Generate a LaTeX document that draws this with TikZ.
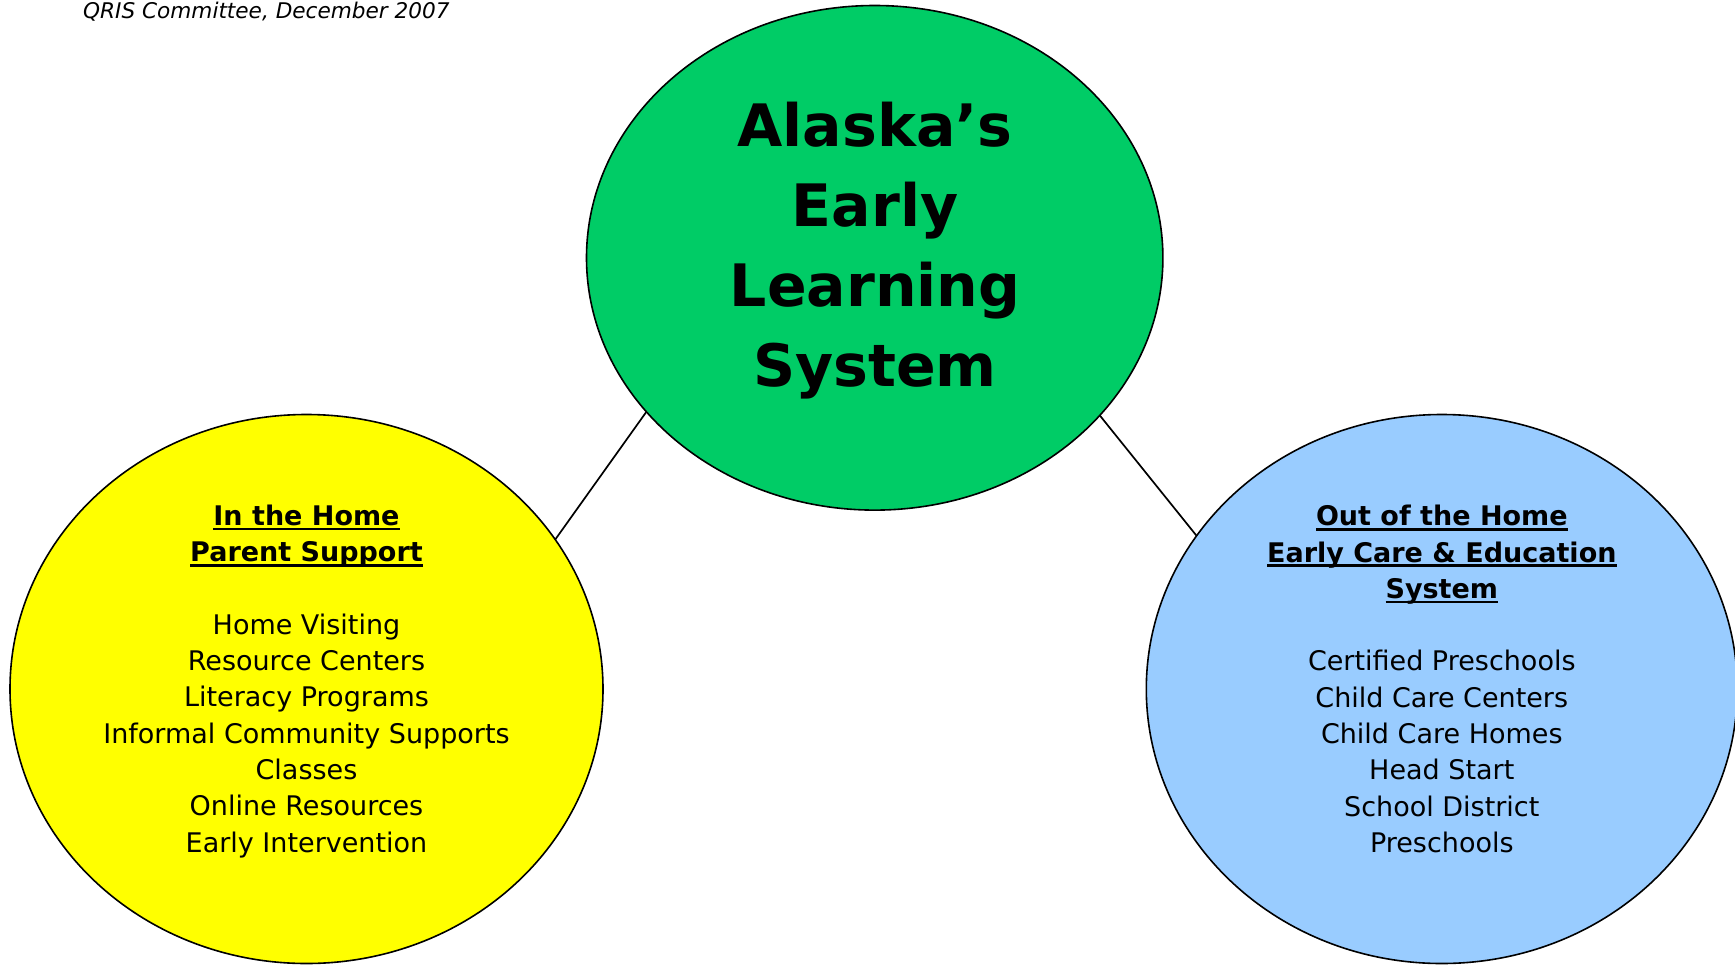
\documentclass[tikz,border=0pt]{standalone}
\usepackage{fontspec}
\setmainfont{DejaVu Sans}
\usetikzlibrary{shapes.geometric}
\definecolor{elgreen}{HTML}{00CC66}
\definecolor{elyellow}{HTML}{FFFF00}
\definecolor{elblue}{HTML}{99CCFF}
\newsavebox\myulbox
\newcommand\myul[1]{\leavevmode\sbox\myulbox{#1}\rlap{\usebox\myulbox}\rule[-4.9pt]{\wd\myulbox}{2.5pt}}
\begin{document}
\begin{tikzpicture}[x=1pt,y=-1pt,
  bubble/.style={ellipse, draw=black, line width=1.6pt, inner sep=0pt, outer sep=0pt},
  conn/.style={draw=black, line width=1.7pt},
  title/.style={align=center, font=\fontsize{58.5}{80}\selectfont\bfseries, inner sep=0pt},
  body/.style={align=center, font=\fontsize{27}{36.3}\selectfont, inner sep=0pt},
  note/.style={font=\fontsize{21.6}{25}\selectfont\itshape, inner sep=0pt}]
\useasboundingbox (0,0) rectangle (1735,964);
\node[bubble, fill=elgreen, minimum width=576.4pt, minimum height=504.6pt] (g) at (874.7,257.8) {};
\node[bubble, fill=elyellow, minimum width=593pt, minimum height=549pt] (y) at (306.5,689) {};
\node[bubble, fill=elblue, minimum width=591pt, minimum height=549pt] (b) at (1441.8,689) {};
\draw[conn] (g.214.97) -- (y.31.8);
\draw[conn] (g.325.1) -- (b.148.1);
\node[title] (gt) at (875,250.5) {Alaska’s\\Early\\Learning\\System};
\node[body] (yt) at (306.5,681.3) {\textbf{\myul{In the Home}}\\\textbf{\myul{Parent Support}}\\[36.3pt]Home Visiting\\Resource Centers\\Literacy Programs\\Informal Community Supports\\Classes\\Online Resources\\Early Intervention};
\node[body] (bt) at (1441.8,679) {\textbf{\myul{Out of the Home}}\\\textbf{\myul{Early Care \& Education}}\\\textbf{\myul{System}}\\[36.3pt]Certified Preschools\\Child Care Centers\\Child Care Homes\\Head Start\\School District\\Preschools};
\node[note, anchor=base west] (nt) at (83,18) {QRIS Committee, December 2007};
\end{tikzpicture}
\end{document}
